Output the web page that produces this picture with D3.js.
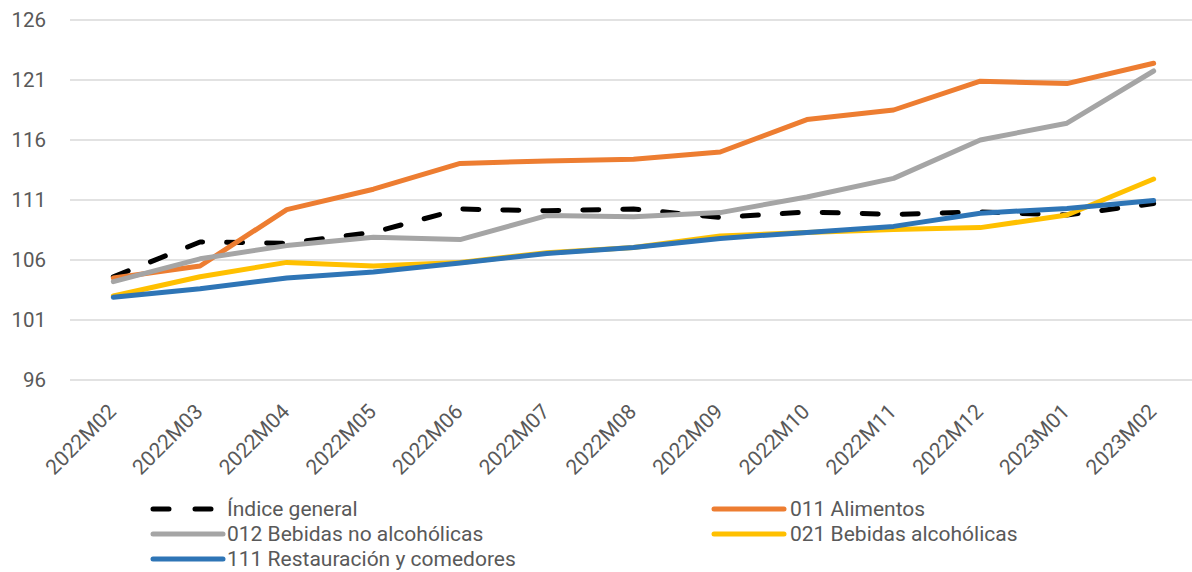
<!DOCTYPE html>
<html>
<head>
<meta charset="utf-8">
<script src="https://cdn.jsdelivr.net/npm/d3@7"></script>
<style>
  body { margin: 0; background: #fff; }
  svg { display: block; font-family: Roboto, "Open Sans", sans-serif; }
</style>
</head>
<body>
<svg id="chart"></svg>
<script>
const months = ["2022M02", "2022M03", "2022M04", "2022M05", "2022M06", "2022M07", "2022M08",
  "2022M09", "2022M10", "2022M11", "2022M12", "2023M01", "2023M02"];

const indiceGeneral = [104.6, 107.5, 107.4, 108.3, 110.25, 110.1, 110.25, 109.55, 110.0, 109.8, 110.0, 109.75, 110.7];
const alimentos = [104.5, 105.5, 110.2, 111.9, 114.05, 114.25, 114.4, 115.0, 117.7, 118.5, 120.9, 120.7, 122.4];
const bebidasNoAlc = [104.2, 106.1, 107.2, 107.9, 107.7, 109.7, 109.6, 109.95, 111.25, 112.8, 116.0, 117.4, 121.75];
const bebidasAlc = [103.0, 104.6, 105.8, 105.5, 105.8, 106.6, 107.05, 108.0, 108.3, 108.55, 108.7, 109.75, 112.75];
const restauracion = [102.9, 103.6, 104.5, 105.0, 105.75, 106.55, 107.05, 107.8, 108.3, 108.8, 109.9, 110.3, 110.95];

const yTicks = [96, 101, 106, 111, 116, 121, 126];

const series = [
  { name: "Índice general", values: indiceGeneral, color: "#000000", dash: "16,24" },
  { name: "011 Alimentos", values: alimentos, color: "#ED7D31" },
  { name: "012 Bebidas no alcohólicas", values: bebidasNoAlc, color: "#A5A5A5" },
  { name: "021 Bebidas alcohólicas", values: bebidasAlc, color: "#FFC000" },
  { name: "111 Restauración y comedores", values: restauracion, color: "#2E75B6" }
];

const width = 1192;
const height = 572;
const margin = { top: 20, right: -5, bottom: 192, left: 70 };

const svg = d3.select("#chart").attr("width", width).attr("height", height);

const x = d3.scaleBand()
  .domain(months)
  .range([margin.left, width - margin.right]);

const y = d3.scaleLinear()
  .domain([96, 126])
  .range([height - margin.bottom, margin.top]);

// gridlines
svg.append("g")
  .selectAll("line")
  .data(yTicks)
  .join("line")
  .attr("x1", margin.left)
  .attr("x2", width)
  .attr("y1", d => y(d))
  .attr("y2", d => y(d))
  .attr("stroke", "#d9d9d9")
  .attr("stroke-width", 1.3);

// y labels
svg.append("g")
  .selectAll("text")
  .data(yTicks)
  .join("text")
  .attr("x", 46)
  .attr("y", d => y(d))
  .attr("dy", "0.35em")
  .attr("text-anchor", "end")
  .attr("fill", "#595959")
  .style("font-size", "20.5px")
  .text(d => d);

// x labels
svg.append("g")
  .selectAll("text")
  .data(months)
  .join("text")
  .attr("transform", d => `translate(${x(d) + x.bandwidth() / 2 + 4},${413}) rotate(-45)`)
  .attr("text-anchor", "end")
  .attr("fill", "#595959")
  .style("font-size", "21px")
  .text(d => d);

// lines
const line = d3.line()
  .x((d, i) => x(months[i]) + x.bandwidth() / 2)
  .y(d => y(d));

svg.append("g")
  .selectAll("path")
  .data(series)
  .join("path")
  .attr("fill", "none")
  .attr("stroke", d => d.color)
  .attr("stroke-width", 5)
  .attr("stroke-linecap", "round")
  .attr("stroke-linejoin", "round")
  .attr("stroke-dasharray", d => d.dash || null)
  .attr("d", d => line(d.values));

// legend
const legendPos = [
  { x: 153, y: 509 }, { x: 714, y: 509 },
  { x: 153, y: 534 }, { x: 714, y: 534 },
  { x: 153, y: 559 }
];

const legend = svg.append("g")
  .selectAll("g")
  .data(series)
  .join("g")
  .attr("transform", (d, i) => `translate(${legendPos[i].x},${legendPos[i].y})`);

legend.append("line")
  .attr("x1", 0)
  .attr("x2", d => d.dash ? 68 : 70)
  .attr("stroke", d => d.color)
  .attr("stroke-width", 5)
  .attr("stroke-linecap", "round")
  .attr("stroke-dasharray", d => d.dash ? "16,26" : null);

legend.append("text")
  .attr("x", (d, i) => i % 2 === 0 ? 74 : 76)
  .attr("dy", "0.35em")
  .attr("fill", "#595959")
  .style("font-size", "21px")
  .text(d => d.name);
</script>
</body>
</html>
